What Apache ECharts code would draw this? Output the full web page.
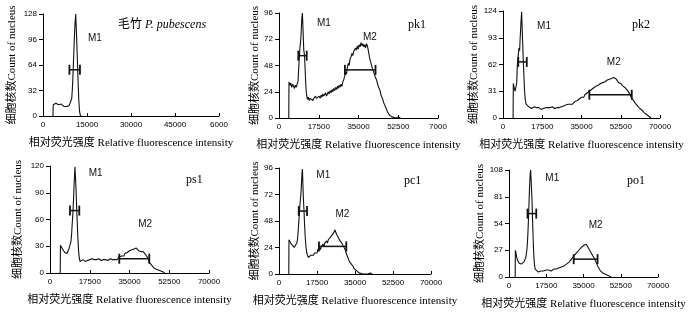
<!DOCTYPE html>
<html><head><meta charset="utf-8">
<script src="https://cdn.jsdelivr.net/npm/echarts@6/dist/echarts.min.js"></script>
<style>html,body{margin:0;padding:0;background:#fff}#c{width:700px;height:314px}</style>
</head><body><div id="c"></div><script>
// ---------- data ----------
const panelTitles = ['毛竹 P. pubescens', 'pk1', 'pk2', 'ps1', 'pc1', 'po1'];
const xTicks1 = ['0', '15000', '30000', '45000', '6000'];
const xTicks2 = ['0', '17500', '35000', '52500', '7000'];
const xTicks = ['0', '17500', '35000', '52500', '70000'];
const xTickSets = [xTicks1, xTicks2, xTicks, xTicks, xTicks, xTicks];
const xMaxes = [60000, 70000, 70000, 70000, 70000, 70000];
const yMaxes = [128, 96, 124, 120, 96, 108];
const yName = '细胞核数Count of nucleus';
const xName = '相对荧光强度 Relative fluorescence intensity';

const pp = [[3400,0],[3500,14],[3800,15],[4100,13],[4400,16],[4700,15],[5000,16],[5300,14],[5600,15],[5900,14],[6200,15],[6500,13],[6800,14],[7100,12],[7400,14],[7700,13],[8000,12],[8300,13],[8600,11],[8900,13],[9200,12],[9500,13],[9800,22],[10100,40],[10350,64],[10650,94],[10900,115],[11150,128],[11400,105],[11700,73],[11950,45],[12200,20],[12450,6],[12700,1],[13000,0]];

const pk1 = [[4300,0],[4400,33],[4800,30],[5200,32],[5600,28],[6000,31],[6400,29],[6800,27],[7200,30],[7600,28],[8000,27],[8400,34],[8800,50],[9100,61],[9400,62],[9700,75],[10000,90],[10300,96],[10600,80],[10900,62],[11200,58],[11500,45],[11800,30],[12100,22],[12500,17],[12900,19],[13300,16],[13700,18],[14100,17],[14500,19],[14900,16],[15300,18],[15700,17],[16100,20],[16500,18],[16900,19],[17300,17],[17700,20],[18100,18],[18500,21],[18900,19],[19300,22],[19700,20],[20100,21],[20500,23],[20900,20],[21300,22],[21700,24],[22100,22],[22500,25],[22900,23],[23300,26],[23700,24],[24100,27],[24500,25],[24900,28],[25300,26],[25700,29],[26100,27],[26500,30],[26900,28],[27300,31],[27700,29],[28100,33],[28500,35],[28900,38],[29300,42],[29700,40],[30100,46],[30500,50],[30900,48],[31300,54],[31700,56],[32100,59],[32500,57],[32900,61],[33300,60],[33700,64],[34100,62],[34500,66],[34900,63],[35300,67],[35700,65],[36100,69],[36500,66],[36900,68],[37300,65],[37700,67],[38100,64],[38500,68],[38900,66],[39300,62],[39700,57],[40100,53],[40500,50],[40900,47],[41300,44],[41700,42],[42100,39],[42500,37],[42900,35],[43300,32],[43700,29],[44100,27],[44500,25],[44900,21],[45300,19],[45700,17],[46100,14],[46500,12],[46900,10],[47300,8],[47700,6],[48100,5],[48500,3],[48900,2],[49300,2],[49700,1],[50500,1],[51500,0],[52500,1],[53500,0]];

const pk2 = [[4500,0],[4600,40],[5000,35],[5400,31],[5800,29],[6100,40],[6400,62],[6700,70],[7100,81],[7400,78],[7700,95],[8000,110],[8300,123],[8600,100],[9000,70],[9300,50],[9600,32],[9900,22],[10300,16],[10700,14],[11100,15],[11500,13],[11900,12],[12300,13],[12700,11],[13100,12],[13500,11],[14000,13],[14500,11],[15000,12],[15500,10],[16000,12],[16500,11],[17000,10],[17500,12],[18000,11],[18500,10],[19000,12],[19500,11],[20000,12],[20500,10],[21000,12],[21500,11],[22000,13],[22500,12],[23000,11],[23500,13],[24000,12],[24500,13],[25000,12],[25500,14],[26000,13],[26500,12],[27000,14],[27500,13],[28000,15],[28500,14],[29000,16],[29500,15],[30000,16],[30500,17],[31000,16],[31500,18],[32000,19],[32500,18],[33000,20],[33500,21],[34000,22],[34500,21],[35000,24],[35500,25],[36000,24],[36500,27],[37000,26],[37500,29],[38000,28],[38500,31],[39000,30],[39500,33],[40000,32],[40500,35],[41000,34],[41500,37],[42000,36],[42500,38],[43000,37],[43500,40],[44000,39],[44500,41],[45000,40],[45500,42],[46000,41],[46500,44],[47000,42],[47500,45],[48000,43],[48500,46],[49000,44],[49500,47],[50000,49],[50500,45],[51000,43],[51500,41],[52000,42],[52500,40],[53000,39],[53500,37],[54000,38],[54500,35],[55000,34],[55500,32],[56000,31],[56500,28],[57000,25],[57500,23],[58000,21],[58500,19],[59000,17],[59500,16],[60000,14],[60500,13],[61000,11],[61500,10],[62000,9],[62500,7],[63000,6],[63500,5],[64000,4],[64500,3],[65000,2],[65500,1],[66000,0]];

const ps1 = [[4500,0],[4600,31],[5000,29],[5500,27],[6000,25],[6500,23],[7000,21],[7400,22],[7800,24],[8200,26],[8800,28],[9200,35],[9500,43],[9800,56],[10100,68],[10400,85],[10600,99],[10800,110],[11000,119],[11200,108],[11450,95],[11700,76],[12000,57],[12300,38],[12600,24],[12900,17],[13200,13],[13600,14],[14000,13],[14500,15],[15000,14],[15500,13],[16000,15],[16500,14],[17000,13],[17500,15],[18000,14],[18500,16],[19000,14],[19500,15],[20000,13],[20500,15],[21000,14],[21500,16],[22000,15],[22500,14],[23000,16],[23500,15],[24000,13],[24500,15],[25000,16],[25500,14],[26000,15],[26500,16],[27000,14],[27500,15],[28000,17],[28500,15],[29000,16],[29500,15],[30000,17],[30500,18],[31000,16],[31500,19],[32000,20],[32500,19],[33000,22],[33500,21],[34000,23],[34500,22],[35000,25],[35500,24],[36000,26],[36500,24],[37000,27],[37500,25],[38000,28],[38500,26],[39000,25],[39500,27],[40000,24],[40500,23],[41000,24],[41500,22],[42000,21],[42500,20],[43000,17],[43500,14],[44000,11],[44500,9],[45000,8],[45500,6],[46000,5],[46500,4],[47000,4],[47500,3],[48000,3],[48500,2],[49000,2],[49500,1],[50000,1],[50500,0]];

const pc1 = [[4500,0],[4600,31],[5000,30],[5400,28],[5800,27],[6200,26],[6600,25],[7000,24],[7400,23],[7800,25],[8200,28],[8500,31],[8800,38],[9100,47],[9400,55],[9700,64],[10000,70],[10300,80],[10600,92],[10800,95],[11000,82],[11200,70],[11500,58],[11800,44],[12100,33],[12400,25],[12800,19],[13100,17],[13500,15],[13900,16],[14300,15],[14700,17],[15100,16],[15500,18],[15900,17],[16300,19],[16700,18],[17100,20],[17500,19],[17900,22],[18300,21],[18700,24],[19100,22],[19500,25],[19900,24],[20300,27],[20700,25],[21100,28],[21500,27],[21900,30],[22300,28],[22700,31],[23100,30],[23500,33],[23900,32],[24300,35],[24700,34],[25100,37],[25500,38],[25800,40],[26100,38],[26500,36],[26900,35],[27300,33],[27700,32],[28100,30],[28500,29],[28900,28],[29300,27],[29700,25],[30100,24],[30500,22],[30900,19],[31300,17],[31700,15],[32100,13],[32500,11],[32900,10],[33300,9],[33700,8],[34100,7],[34500,5],[34900,4],[35300,4],[35700,3],[36100,2],[36500,2],[36900,1],[37500,1],[38500,0],[41000,0],[42000,1],[43000,0]];

const po1 = [[2900,0],[3000,27],[3300,24],[3600,20],[4000,17],[4400,15],[4800,14],[5300,13],[5800,13],[6300,14],[6900,15],[7400,17],[7800,19],[8200,24],[8500,30],[8800,40],[9000,50],[9200,62],[9450,78],[9700,93],[9950,104],[10150,108],[10350,100],[10600,88],[10800,78],[11100,55],[11400,35],[11700,20],[12000,12],[12300,8],[12700,6],[13200,6],[13800,5],[14400,6],[15000,6],[15600,5],[16200,6],[16800,6],[17400,7],[18000,6],[18600,7],[19200,7],[19800,6],[20400,7],[21000,8],[21600,7],[22200,8],[22800,8],[23400,9],[24000,9],[24600,10],[25200,10],[25800,11],[26400,12],[27000,13],[27600,14],[28200,15],[28800,17],[29400,18],[30000,20],[30400,21],[30800,22],[31200,23],[31600,24],[32000,25],[32400,26],[32800,27],[33200,28],[33600,29],[34000,30],[34400,31],[34800,31],[35200,32],[35600,33],[36000,32],[36300,33],[36700,31],[37100,30],[37500,28],[37900,27],[38300,25],[38700,24],[39100,23],[39500,21],[39900,20],[40300,18],[40700,16],[41100,14],[41500,12],[41900,10],[42300,9],[42700,7],[43100,6],[43500,5],[44000,4],[44500,3],[45000,3],[45500,2],[46000,2],[46800,1],[48000,0]];

const histograms = [pp, pk1, pk2, ps1, pc1, po1];

// gates: [start, end, level]
const gates = [
  [[9000,12600,58]],
  [[8500,12200,57],[29000,42500,44]],
  [[6800,10600,65],[38500,57400,27]],
  [[8800,12900,70],[30500,43700,16]],
  [[9100,12900,57],[18400,31000,25]],
  [[8700,12800,64],[30400,41600,18]]
];
// gate labels: [x, y, text]
const gateLabels = [
  [[17700,97,'M1']],
  [[19800,87,'M1'],[40000,74,'M2']],
  [[18300,106,'M1'],[49400,65,'M2']],
  [[20100,112,'M1'],[41900,55,'M2']],
  [[20400,89,'M1'],[29200,54,'M2']],
  [[20350,100,'M1'],[40700,52,'M2']]
];

// ---------- layout ----------
const grids = [
  {left:43, top:14, width:176, height:102},
  {left:279, top:13, width:159, height:105},
  {left:503, top:11, width:157, height:107},
  {left:50, top:166, width:159, height:107},
  {left:279, top:168, width:152, height:106},
  {left:509, top:170, width:149, height:107}
];
const yNameGaps = [25, 16, 20, 26, 18, 21];
const titlePos = [[118,26],[408,26],[632,26],[186,181],[404,182],[627,182]];

const serif = '"Liberation Serif","Times New Roman","Noto Sans CJK SC",serif';
const narrow = '"Liberation Sans Narrow","Arial Narrow","Liberation Sans",sans-serif';
const sans = '"Liberation Sans",Arial,sans-serif';

const xAxes = [], yAxes = [], series = [];
grids.forEach((g, i) => {
  const xi = xMaxes[i] / 4;
  const ticks = xTickSets[i];
  xAxes.push({
    type: 'value', gridIndex: i, min: 0, max: xMaxes[i], interval: xi,
    name: xName, nameLocation: 'middle', nameGap: 22,
    nameTextStyle: {fontFamily: serif, fontSize: 11, color: '#000'},
    axisLine: {show: true, lineStyle: {color: '#000', width: 1}},
    axisTick: {show: true, inside: true, length: 3, lineStyle: {color: '#000'}},
    axisLabel: {show: true, margin: 5, fontSize: 8, fontFamily: narrow, color: '#000',
      formatter: v => ticks[Math.round(v / xi)] ?? ''},
    splitLine: {show: false}
  });
  yAxes.push({
    type: 'value', gridIndex: i, min: 0, max: yMaxes[i], interval: yMaxes[i] / 4,
    name: yName, nameLocation: 'middle', nameRotate: 90, nameGap: yNameGaps[i],
    nameTextStyle: {fontFamily: serif, fontSize: 11, color: '#000'},
    axisLine: {show: true, lineStyle: {color: '#000', width: 1}},
    axisTick: {show: true, inside: false, length: 4, lineStyle: {color: '#000'}},
    axisLabel: {show: true, margin: 6, fontSize: 8, fontFamily: narrow, color: '#000'},
    splitLine: {show: false}
  });
  series.push({
    type: 'line', xAxisIndex: i, yAxisIndex: i, data: histograms[i],
    showSymbol: false, symbol: 'none', animation: false,
    lineStyle: {color: '#111', width: 1.1}
  });
  series.push({
    type: 'custom', xAxisIndex: i, yAxisIndex: i, data: gates[i], animation: false,
    encode: {x: [0, 1], y: 2},
    renderItem: (params, api) => {
      const a = api.coord([api.value(0), api.value(2)]);
      const b = api.coord([api.value(1), api.value(2)]);
      const h = 5;
      return {type: 'group', children: [
        {type: 'line', shape: {x1: a[0], y1: a[1], x2: b[0], y2: b[1]}, style: {stroke: '#111', lineWidth: 1.5}},
        {type: 'line', shape: {x1: a[0], y1: a[1] - h, x2: a[0], y2: a[1] + h}, style: {stroke: '#111', lineWidth: 1.8}},
        {type: 'line', shape: {x1: b[0], y1: b[1] - h, x2: b[0], y2: b[1] + h}, style: {stroke: '#111', lineWidth: 1.8}}
      ]};
    }
  });
  series.push({
    type: 'custom', xAxisIndex: i, yAxisIndex: i, data: gateLabels[i], animation: false,
    encode: {x: 0, y: 1},
    renderItem: (params, api) => {
      const p = api.coord([api.value(0), api.value(1)]);
      const t = gateLabels[i][params.dataIndex][2];
      return {type: 'text', x: p[0], y: p[1], style: {text: t, fill: '#111',
        font: '10px ' + sans, textAlign: 'center', textVerticalAlign: 'middle'}};
    }
  });
});

const graphics = panelTitles.map((t, i) => {
  if (i === 0) {
    return {type: 'text', left: titlePos[i][0], top: titlePos[i][1] - 7,
      style: {text: '{a|毛竹 }{b|P. pubescens}', fill: '#000',
        rich: {a: {fontFamily: serif, fontSize: 12, fill: '#000'}, b: {fontFamily: serif, fontSize: 12, fontStyle: 'italic', fill: '#000'}}}};
  }
  return {type: 'text', left: titlePos[i][0], top: titlePos[i][1] - 7,
    style: {text: t, fill: '#000', font: '12px ' + serif}};
});

const chart = echarts.init(document.getElementById('c'), null, {renderer: 'canvas'});
chart.setOption({
  animation: false,
  backgroundColor: '#fff',
  grid: grids,
  xAxis: xAxes,
  yAxis: yAxes,
  series: series,
  graphic: graphics
});
</script></body></html>
